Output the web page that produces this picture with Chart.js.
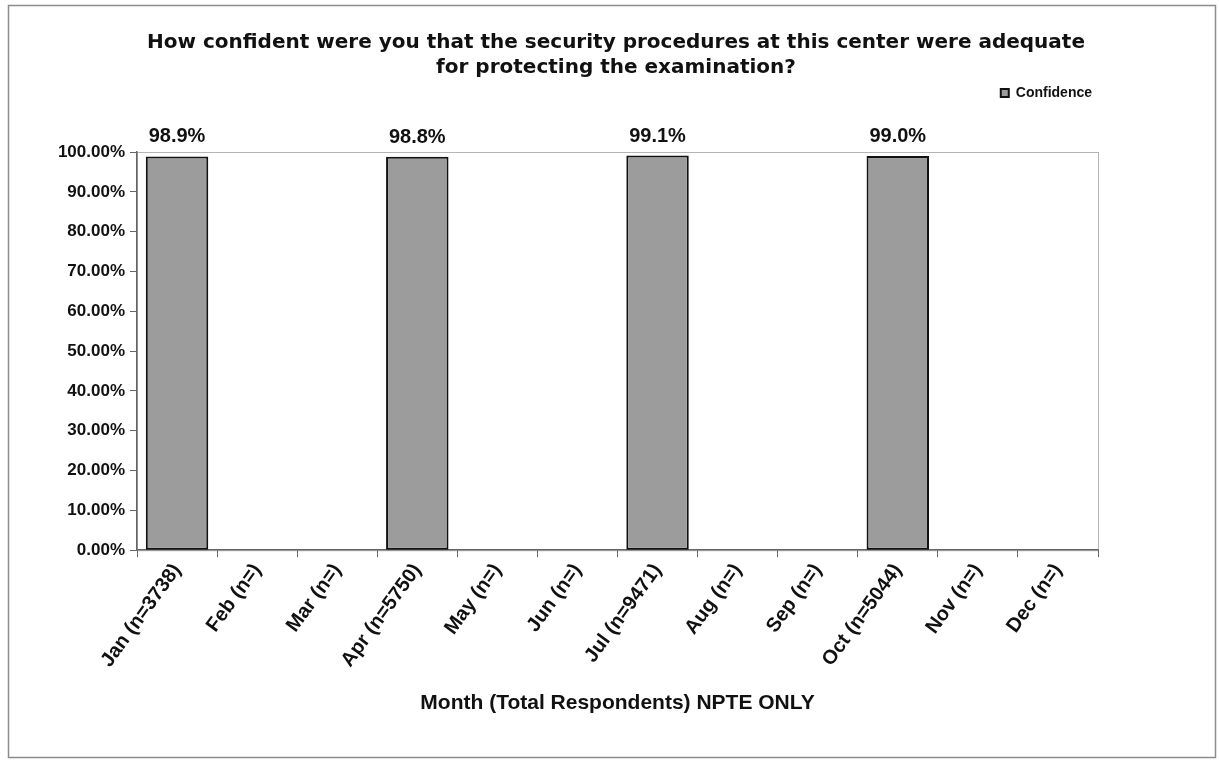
<!DOCTYPE html>
<html>
<head>
<meta charset="utf-8">
<title>Security procedures confidence</title>
<script src="https://cdn.jsdelivr.net/npm/chart.js@4/dist/chart.umd.min.js"></script>
<style>
  html, body { margin: 0; padding: 0; background: #fff; }
  #wrap { width: 1219px; height: 765px; }
</style>
</head>
<body>
<div id="wrap"><canvas id="chart" width="1219" height="765"></canvas></div>
<script>
// month labels with respondent counts
const months = [
  'Jan (n=3738)', 'Feb (n=)', 'Mar (n=)', 'Apr (n=5750)', 'May (n=)', 'Jun (n=)',
  'Jul (n=9471)', 'Aug (n=)', 'Sep (n=)', 'Oct (n=5044)', 'Nov (n=)', 'Dec (n=)'
];
// confidence share per month (percent); null = no survey that month
const confidence = [98.9, null, null, 98.8, null, null, 99.1, null, null, 99.0, null, null];
const yTicks = [0, 10, 20, 30, 40, 50, 60, 70, 80, 90, 100];

const FONT = "'Liberation Sans', Arial, sans-serif";
const TITLE_FONT = "'DejaVu Sans', Verdana, sans-serif";

// outer frame + plot box
const framePlugin = {
  id: 'frame',
  beforeDraw(chart) {
    const ctx = chart.ctx;
    ctx.save();
    ctx.fillStyle = '#fff';
    ctx.fillRect(0, 0, chart.width, chart.height);
    ctx.strokeStyle = '#8c8c8c';
    ctx.lineWidth = 1.5;
    ctx.strokeRect(8.5, 5.5, 1207, 752);
    const a = chart.chartArea;
    ctx.strokeStyle = '#b5b5b5';
    ctx.lineWidth = 1;
    ctx.strokeRect(a.left + 0.5, a.top + 0.5, a.right - a.left, a.bottom - a.top);
    ctx.restore();
  }
};

// value labels above each bar
const valueLabels = {
  id: 'valueLabels',
  afterDatasetsDraw(chart) {
    const ctx = chart.ctx;
    const meta = chart.getDatasetMeta(0);
    ctx.save();
    ctx.font = 'bold 20px ' + FONT;
    ctx.fillStyle = '#111';
    ctx.textAlign = 'center';
    ctx.textBaseline = 'alphabetic';
    meta.data.forEach((bar, i) => {
      const v = confidence[i];
      if (v == null) return;
      ctx.fillText(v.toFixed(1) + '%', bar.x, bar.y - 14);
    });
    ctx.restore();
  }
};

new Chart(document.getElementById('chart'), {
  type: 'bar',
  data: {
    labels: months,
    datasets: [{
      label: 'Confidence',
      data: confidence,
      backgroundColor: '#9c9c9c',
      borderColor: '#111',
      borderWidth: 2,
      borderSkipped: false,
      categoryPercentage: 1.0,
      barPercentage: 0.78
    }]
  },
  options: {
    responsive: false,
    animation: false,
    layout: { padding: { left: 13, right: 0, top: 30, bottom: 49 } },
    plugins: {
      title: {
        display: true,
        text: [
          'How confident were you that the security procedures at this center were adequate',
          'for protecting the examination?'
        ],
        color: '#111',
        font: { family: TITLE_FONT, size: 20, weight: 'bold', lineHeight: 1.25 },
        padding: { top: 0, bottom: 0 }
      },
      // empty spacer between legend and plot
      subtitle: {
        display: true,
        text: '',
        weight: 500,
        font: { size: 10, lineHeight: 1 },
        padding: { top: 32, bottom: 0 }
      },
      legend: {
        position: 'top',
        align: 'end',
        fullSize: false,
        labels: {
          color: '#111',
          font: { family: FONT, size: 14, weight: 'bold' },
          boxWidth: 8,
          boxHeight: 8,
          padding: 6
        }
      },
      tooltip: { enabled: false }
    },
    scales: {
      x: {
        grid: {
          offset: true,
          drawOnChartArea: false,
          drawTicks: true,
          tickLength: 7,
          color: '#666'
        },
        border: { color: '#666', width: 1.5 },
        ticks: {
          color: '#111',
          font: { family: FONT, size: 20, weight: 'bold' },
          maxRotation: 54,
          minRotation: 54,
          padding: 2,
          autoSkip: false
        },
        title: {
          display: true,
          text: 'Month (Total Respondents) NPTE ONLY',
          color: '#111',
          font: { family: FONT, size: 21, weight: 'bold' },
          padding: { top: 17, bottom: 0 }
        }
      },
      y: {
        min: 0,
        max: 100,
        afterBuildTicks(scale) {
          scale.ticks = yTicks.map(v => ({ value: v }));
        },
        afterFit(scale) { scale.width = 124; },
        grid: {
          drawOnChartArea: false,
          drawTicks: true,
          tickLength: 7,
          color: '#666'
        },
        border: { color: '#666', width: 1.5 },
        ticks: {
          color: '#111',
          font: { family: FONT, size: 17, weight: 'bold' },
          padding: 5,
          callback: v => v.toFixed(2) + '%'
        }
      },
      // blank right-hand axis keeps room beside the plot
      yPad: {
        position: 'right',
        min: 0,
        max: 1,
        afterFit(scale) { scale.width = 121; },
        grid: { display: false },
        border: { display: false },
        ticks: { display: false }
      }
    }
  },
  plugins: [framePlugin, valueLabels]
});
</script>
</body>
</html>
